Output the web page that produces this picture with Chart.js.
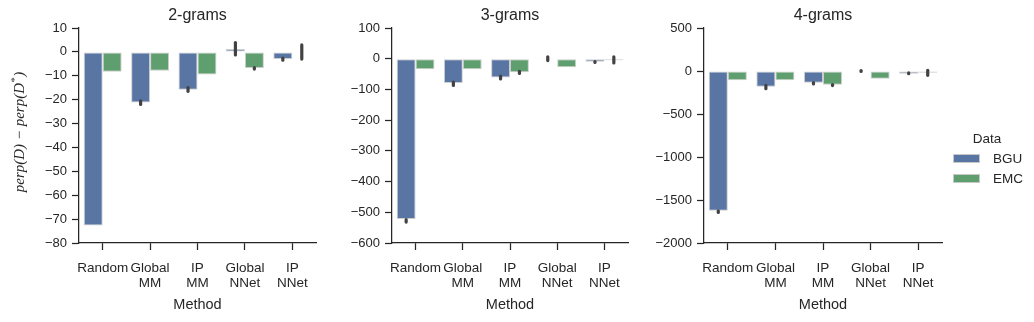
<!DOCTYPE html>
<html>
<head>
<meta charset="utf-8">
<script src="https://cdn.jsdelivr.net/npm/chart.js@4"></script>
<style>
  body { margin: 0; background: #fff; }
  #wrap { position: relative; width: 1034px; height: 322px; overflow: hidden; }
  canvas { position: absolute; top: 0; }
</style>
</head>
<body>
<div id="wrap">
  <canvas id="c2" style="left:0px"></canvas>
  <canvas id="c3" style="left:330px"></canvas>
  <canvas id="c4" style="left:640px"></canvas>
</div>
<script>
const methods = [["Random"], ["Global", "MM"], ["IP", "MM"], ["Global", "NNet"], ["IP", "NNet"]];
const seriesNames = ["BGU", "EMC"];
const seriesColors = ["#5875A4", "#5F9E6E"];

// 2-grams
const bgu2 = [-72.7, -21.2, -15.8, 1.2, -3.0];
const emc2 = [-8.3, -7.9, -9.5, -6.7, 0.2];
const bgu2Err = [null, [-22, -20.5], [-16.5, -15], [-1.3, 3.9], [-3.5, -2.6]];
const emc2Err = [null, null, null, [-7.2, -6.6], [-3.0, 2.9]];

// 3-grams
const bgu3 = [-522, -79, -61, 2, -10];
const emc3 = [-34, -34, -44, -28, -5];
const bgu3Err = [[-532, -524], [-87, -76], [-66, -57], [-6, 6], [-12, -9]];
const emc3Err = [null, null, [-48, -41], null, [-14, 6]];

// 4-grams
const bgu4 = [-1624, -182, -136, -6, -31];
const emc4 = [-108, -108, -159, -89, -20];
const bgu4Err = [[-1645, -1625], [-205, -168], [-150, -135], [-5, 5], [-32, -22]];
const emc4Err = [null, null, [-170, -158], null, [-50, 8]];

const ink = "#262626";
const sans = "'Liberation Sans', Arial, sans-serif";
Chart.defaults.font.family = sans;
Chart.defaults.color = ink;

const errorBars = {
  id: "errorBars",
  afterDatasetsDraw(chart, args, opts) {
    const ctx = chart.ctx;
    const y = chart.scales.y;
    ctx.save();
    ctx.strokeStyle = "#424242";
    ctx.lineWidth = 3.2;
    ctx.lineCap = "round";
    opts.errs.forEach((errs, di) => {
      const meta = chart.getDatasetMeta(di);
      errs.forEach((e, i) => {
        if (!e) return;
        const x = meta.data[i].x;
        ctx.beginPath();
        ctx.moveTo(x, y.getPixelForValue(e[0]));
        ctx.lineTo(x, y.getPixelForValue(e[1]));
        ctx.stroke();
      });
    });
    ctx.restore();
  }
};

const panelText = {
  id: "panelText",
  afterDraw(chart, args, opts) {
    const ctx = chart.ctx;
    const a = chart.chartArea;
    const cx = (a.left + a.right) / 2;
    ctx.save();
    ctx.fillStyle = ink;
    ctx.textAlign = "center";
    ctx.textBaseline = "middle";
    ctx.font = "16px " + sans;
    ctx.fillText(opts.title, cx, 16);
    ctx.font = "14.5px " + sans;
    ctx.fillText("Method", cx, 305);
    if (opts.ylabel) {
      ctx.translate(20, 132);
      ctx.rotate(-Math.PI / 2);
      const f = "italic 15px 'Liberation Serif', 'DejaVu Serif', serif";
      const fs = "italic 10.5px 'Liberation Serif', 'DejaVu Serif', serif";
      ctx.font = f;
      const p1 = "perp(D) \u2212 perp(D";
      const w1 = ctx.measureText(p1).width;
      ctx.font = fs;
      const w2 = ctx.measureText("*").width + 1;
      ctx.font = f;
      const w3 = ctx.measureText(")").width;
      const x0 = -(w1 + w2 + w3) / 2;
      ctx.textAlign = "left";
      ctx.fillText(p1, x0, 0);
      ctx.font = fs;
      ctx.fillText("*", x0 + w1, -5);
      ctx.font = f;
      ctx.fillText(")", x0 + w1 + w2, 0);
    }
    if (opts.legend) {
      ctx.textAlign = "center";
      ctx.font = "13.5px " + sans;
      ctx.fillText("Data", 987 - 640, 139);
      seriesNames.forEach((n, i) => {
        const yy = 154 + i * 20;
        ctx.fillStyle = seriesColors[i];
        ctx.fillRect(953 - 640, yy, 27, 9);
        ctx.strokeStyle = "#c8c8c8";
        ctx.lineWidth = 1;
        ctx.strokeRect(953 - 640 + 0.5, yy + 0.5, 26, 8);
        ctx.fillStyle = ink;
        ctx.textAlign = "left";
        ctx.font = "13.5px " + sans;
        ctx.fillText(n, 993 - 640, yy + 5);
      });
    }
    ctx.restore();
  }
};

function makePanel(id, cw, axisX, padRight, title, bgu, emc, bguErr, emcErr, min, max, step, extra) {
  const canvas = document.getElementById(id);
  canvas.width = cw;
  canvas.height = 322;
  canvas.style.width = cw + "px";
  canvas.style.height = "322px";
  return new Chart(canvas, {
    type: "bar",
    data: {
      labels: methods,
      datasets: [
        { label: seriesNames[0], data: bgu, backgroundColor: seriesColors[0] },
        { label: seriesNames[1], data: emc, backgroundColor: seriesColors[1] }
      ].map(d => Object.assign(d, {
        borderColor: "rgba(200,200,200,0.9)",
        borderWidth: 1,
        borderSkipped: false,
        categoryPercentage: 0.8,
        barPercentage: 1.0
      }))
    },
    options: {
      responsive: false,
      animation: false,
      devicePixelRatio: 1,
      layout: { padding: { top: 28, right: padRight, left: 0, bottom: 0 } },
      plugins: {
        legend: { display: false },
        tooltip: { enabled: false },
        errorBars: { errs: [bguErr, emcErr] },
        panelText: Object.assign({ title: title }, extra)
      },
      scales: {
        x: {
          offset: true,
          grid: { display: true, offset: false, drawOnChartArea: false, tickLength: 7, tickWidth: 1.25, tickColor: ink },
          border: { display: true, color: ink, width: 1.25 },
          ticks: { font: { size: 13.5, lineHeight: 1.1 }, color: ink, padding: 11, maxRotation: 0, autoSkip: false },
          afterFit(s) { s.height = 79; }
        },
        y: {
          min: min, max: max,
          grid: { display: true, drawOnChartArea: false, tickLength: 7, tickWidth: 1.25, tickColor: ink },
          border: { display: true, color: ink, width: 1.25 },
          ticks: {
            stepSize: step, font: { size: 13 }, color: ink, padding: 5,
            callback: v => String(v).replace("-", "\u2212")
          },
          afterFit(s) { s.width = axisX; }
        }
      }
    },
    plugins: [errorBars, panelText]
  });
}

makePanel("c2", 330, 79, 14, "2-grams", bgu2, emc2, bgu2Err, emc2Err, -80, 10, 10, { ylabel: true });
makePanel("c3", 310, 62, 12, "3-grams", bgu3, emc3, bgu3Err, emc3Err, -600, 100, 100, {});
makePanel("c4", 394, 64, 92, "4-grams", bgu4, emc4, bgu4Err, emc4Err, -2000, 500, 500, { legend: true });
</script>
</body>
</html>
